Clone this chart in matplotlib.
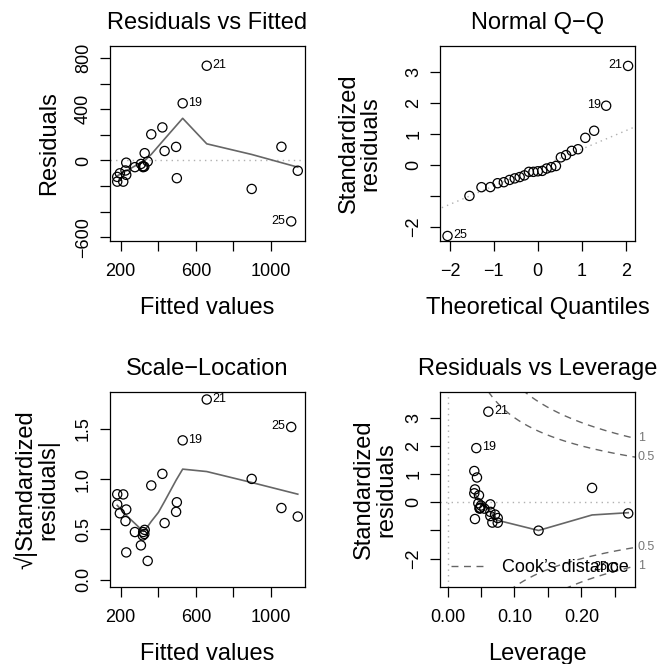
import numpy as np
import matplotlib
matplotlib.use("Agg")
import matplotlib.pyplot as plt
from matplotlib.lines import Line2D
from statistics import NormalDist

plt.rcParams['font.family'] = ['Liberation Sans', 'DejaVu Sans']

fitted = np.array([182, 214, 182, 196, 230, 226, 230, 276, 308, 320, 328, 326, 318,
                   344, 363, 422, 434, 495, 530, 499, 658, 897, 1055, 1142, 1107])
resid = np.array([-165, -165, -128, -100, -112, -78, -17, -52, -27, -52, 57, -48, -45,
                  -8, 204, 258, 74, 106, 446, -138, 739, -222, 107, -80, -475])
std_resid = np.array([-0.723, -0.720, -0.561, -0.437, -0.488, -0.340, -0.074, -0.225,
                      -0.117, -0.225, 0.246, -0.207, -0.194, -0.035, 0.879, 1.109,
                      0.318, 0.456, 1.921, -0.594, 3.213, -1.006, 0.509, -0.395, -2.307])
leverage = np.array([0.075, 0.067, 0.075, 0.071, 0.064, 0.064, 0.064, 0.055, 0.050,
                     0.048, 0.047, 0.048, 0.049, 0.046, 0.044, 0.040, 0.040, 0.041,
                     0.043, 0.041, 0.061, 0.136, 0.216, 0.270, 0.247])
flagged = [19, 21, 25]

# smoother lines
smooth_rf_x = [182, 230, 276, 330, 363, 434, 499, 530, 658, 897, 1055, 1142]
smooth_rf_y = [-120, -81, -43, 1, 48, 168, 277, 329, 130, 47, -17, -52]
smooth_sl_x = [182, 230, 276, 321, 344, 363, 401, 434, 495, 530, 658, 897, 1142]
smooth_sl_y = [0.74, 0.64, 0.56, 0.48, 0.53, 0.58, 0.67, 0.78, 0.99, 1.10, 1.076, 0.967, 0.851]
smooth_lev_x = [0.040, 0.075, 0.136, 0.216, 0.270]
smooth_lev_y = [0.30, -0.64, -1.00, -0.45, -0.37]

cook_levels = [0.5, 1]
n_params = 2

GRID = '#b0b0b0'
SMOOTH = '#666666'
FS_TITLE = 17
FS_LAB = 17
FS_TICK = 13
FS_ID = 9

fig = plt.figure(figsize=(6.64, 6.64), dpi=100)
W = 664.0


def make_ax(left, top):
    return fig.add_axes([left / W, (W - top - 195) / W, 195 / W, 195 / W])


def style(ax, title, xlabel, ylabel, ylabelpad):
    ax.set_title(title, fontsize=FS_TITLE, pad=12)
    ax.set_xlabel(xlabel, fontsize=FS_LAB, labelpad=12)
    ax.set_ylabel(ylabel, fontsize=FS_LAB, labelpad=ylabelpad, linespacing=1.0)
    ax.tick_params(direction='out', length=7, width=0.9, labelsize=FS_TICK)
    ax.tick_params(axis='x', pad=9)
    ax.tick_params(axis='y', pad=6)
    for sp in ax.spines.values():
        sp.set_linewidth(0.9)


def circles(ax, x, y):
    ax.scatter(x, y, s=44, facecolors='none', edgecolors='black', linewidths=0.9, zorder=3)


def label_ids(ax, x, y, xr):
    mid = (xr[0] + xr[1]) / 2
    for k in flagged:
        xi, yi = x[k - 1], y[k - 1]
        right = xi <= mid
        ax.annotate(str(k), (xi, yi), xytext=(4 if right else -4, 0.5),
                    textcoords='offset points', ha='left' if right else 'right',
                    va='center', fontsize=FS_ID, zorder=4)


def set_ticks(ax, axis, ticks, labels):
    if axis == 'x':
        ax.set_xticks(ticks)
        ax.set_xticklabels(labels)
    else:
        ax.set_yticks(ticks)
        ax.set_yticklabels(labels, rotation=90, va='center')


# 1. Residuals vs Fitted
ax1 = make_ax(110, 46)
ax1.axhline(0, color=GRID, lw=1, ls=(0, (1, 3)), zorder=1)
ax1.plot(smooth_rf_x, smooth_rf_y, color=SMOOTH, lw=1.2, zorder=2)
circles(ax1, fitted, resid)
ax1.set_xlim(143.6, 1180.4)
ax1.set_ylim(-628, 893)
set_ticks(ax1, 'x', [200, 400, 600, 800, 1000], ['200', '', '600', '', '1000'])
set_ticks(ax1, 'y', [-600, -400, -200, 0, 200, 400, 600, 800],
          ['\u2212600', '', '', '0', '', '400', '', '800'])
label_ids(ax1, fitted, resid, (fitted.min(), fitted.max()))
style(ax1, 'Residuals vs Fitted', 'Fitted values', 'Residuals', 11)

# 2. Normal Q-Q
ax2 = make_ax(440.3, 46)
n = len(std_resid)
order = np.argsort(std_resid)
theo = np.empty(n)
theo[order] = [NormalDist().inv_cdf((i + 0.5) / n) for i in range(n)]
q1, q3 = np.percentile(std_resid, [25, 75])
z1, z3 = NormalDist().inv_cdf(0.25), NormalDist().inv_cdf(0.75)
slope = (q3 - q1) / (z3 - z1)
icpt = q1 - slope * z1
xx = np.array([-2.3, 2.3])
ax2.plot(xx, icpt + slope * xx, color=GRID, lw=1, ls=(0, (1, 3)), zorder=1)
circles(ax2, theo, std_resid)
ax2.set_xlim(-2.218, 2.218)
ax2.set_ylim(-2.47, 3.86)
set_ticks(ax2, 'x', [-2, -1, 0, 1, 2], ['\u22122', '\u22121', '0', '1', '2'])
set_ticks(ax2, 'y', [-2, -1, 0, 1, 2, 3], ['\u22122', '', '0', '1', '2', '3'])
label_ids(ax2, theo, std_resid, (theo.min(), theo.max()))
style(ax2, 'Normal Q\u2212Q', 'Theoretical Quantiles', 'Standardized\nresiduals', 17)

# 3. Scale-Location
ax3 = make_ax(110, 392)
sqrt_abs = np.sqrt(np.abs(std_resid))
ax3.plot(smooth_sl_x, smooth_sl_y, color=SMOOTH, lw=1.2, zorder=2)
circles(ax3, fitted, sqrt_abs)
ax3.set_xlim(143.6, 1180.4)
ax3.set_ylim(-0.072, 1.867)
set_ticks(ax3, 'x', [200, 400, 600, 800, 1000], ['200', '', '600', '', '1000'])
set_ticks(ax3, 'y', [0, 0.5, 1.0, 1.5], ['0.0', '0.5', '1.0', '1.5'])
label_ids(ax3, fitted, sqrt_abs, (fitted.min(), fitted.max()))
style(ax3, 'Scale\u2212Location', 'Fitted values',
      '\u221a|Standardized\nresiduals|', 11)

# 4. Residuals vs Leverage
ax4 = make_ax(440.3, 392)
xlo, xhi = -0.0108, 0.2806
ylo, yhi = -3.005, 3.911
ax4.axhline(0, color=GRID, lw=1, ls=(0, (1, 3)), zorder=1)
ax4.axvline(0, color=GRID, lw=1, ls=(0, (1, 3)), zorder=1)
hh = np.linspace(0.01, xhi, 200)
for lev in cook_levels:
    cc = np.sqrt(lev * n_params * (1 - hh) / hh)
    ax4.plot(hh, cc, color=SMOOTH, lw=1, ls=(0, (5, 4)), zorder=1)
    ax4.plot(hh, -cc, color=SMOOTH, lw=1, ls=(0, (5, 4)), zorder=1)
    yl = np.sqrt(lev * n_params * (1 - xhi) / xhi)
    for sgn in (1, -1):
        ax4.text(xhi + 0.004, sgn * yl, '%g' % lev, color='#777777', fontsize=FS_ID,
                 ha='left', va='center', clip_on=False)
ax4.plot(smooth_lev_x, smooth_lev_y, color=SMOOTH, lw=1.2, zorder=2)
circles(ax4, leverage, std_resid)
ax4.set_xlim(xlo, xhi)
ax4.set_ylim(ylo, yhi)
set_ticks(ax4, 'x', [0, 0.05, 0.10, 0.15, 0.20, 0.25], ['0.00', '', '0.10', '', '0.20', ''])
set_ticks(ax4, 'y', [-2, -1, 0, 1, 2, 3], ['\u22122', '', '0', '1', '2', '3'])
label_ids(ax4, leverage, std_resid, (0, leverage.max()))
handle = Line2D([], [], color=SMOOTH, lw=1, ls=(0, (5, 4)))
ax4.legend([handle], ["Cook\u2019s distance"], loc='lower left', frameon=False,
           fontsize=FS_TICK, handlelength=1.8, handletextpad=1.0,
           borderaxespad=0.2, borderpad=0.4)
style(ax4, 'Residuals vs Leverage', 'Leverage', 'Standardized\nresiduals', 6)

fig.savefig('out.png', dpi=100)
